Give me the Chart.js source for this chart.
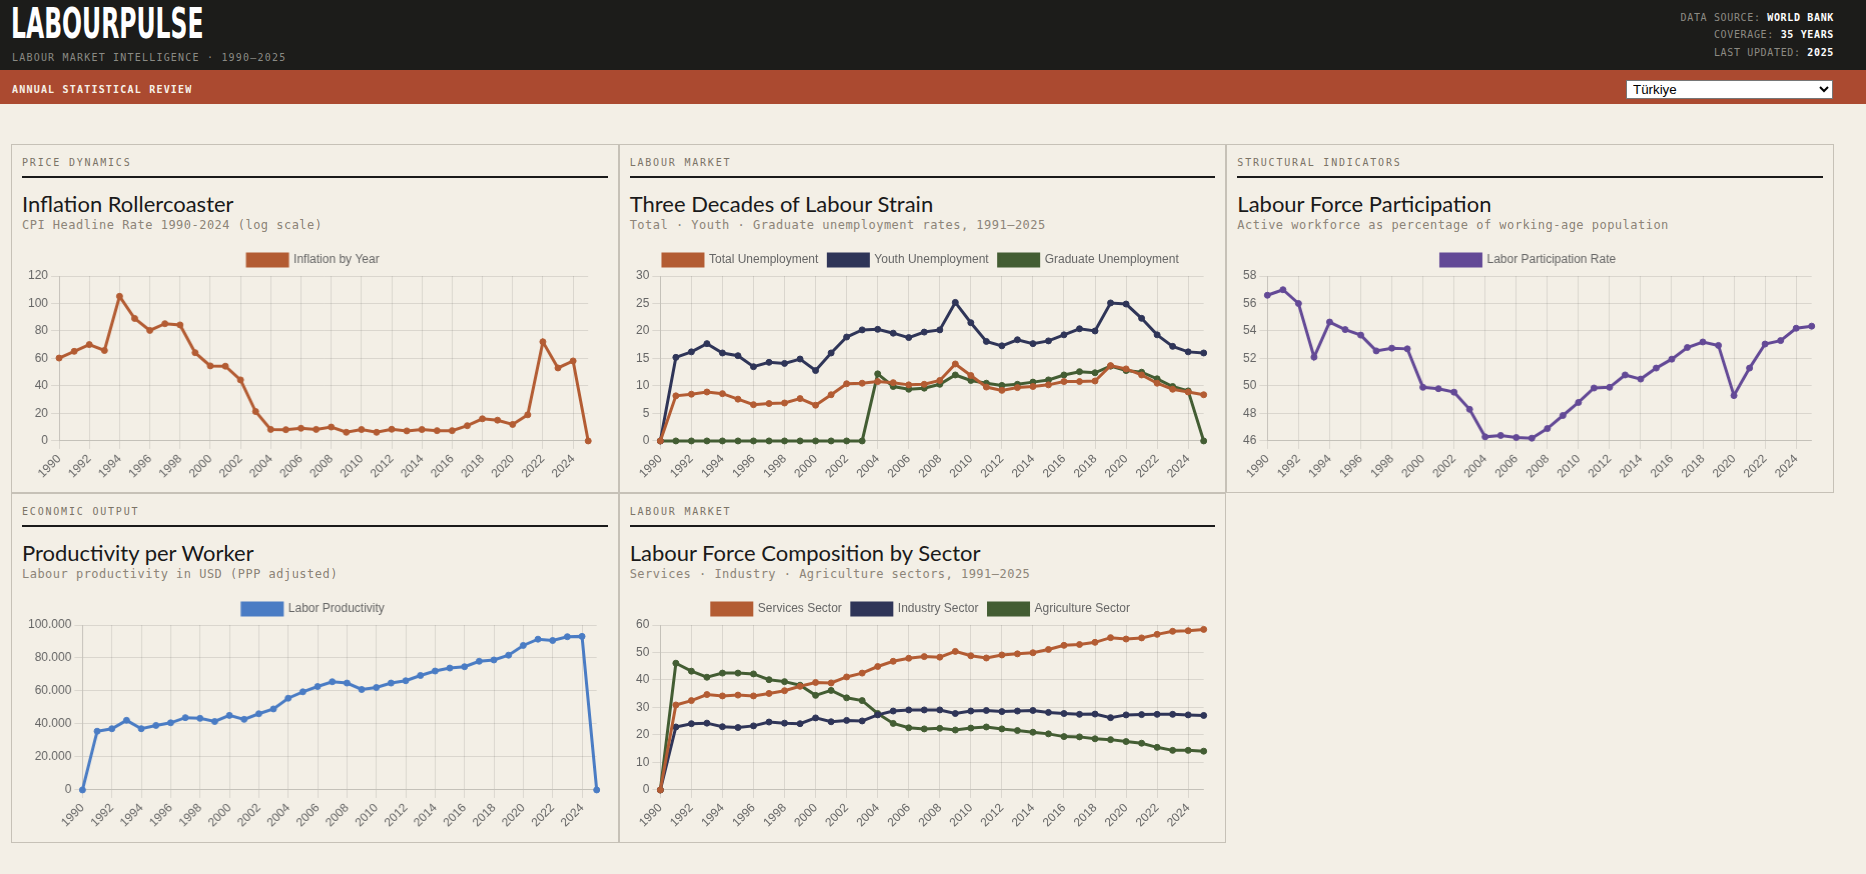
<!DOCTYPE html>
<html><head><meta charset="utf-8">
<script src="https://cdn.jsdelivr.net/npm/chart.js@4.4.1/dist/chart.umd.min.js"></script>
<style>
html,body{margin:0;padding:0;background:#f3efe6;}
body{width:1866px;height:874px;overflow:hidden;position:relative;font-family:'DejaVu Sans Mono',monospace;}
.hdr{position:absolute;left:0;top:0;width:1866px;height:70px;background:#1c1c1a;}
.brand{position:absolute;left:11px;top:-0.7px;font-family:'DejaVu Sans Condensed','DejaVu Sans';font-weight:bold;font-size:42.5px;line-height:50px;color:#fff;transform:scaleX(.615);transform-origin:0 0;white-space:nowrap;}
.tag{position:absolute;left:12px;top:51.8px;font-size:10px;line-height:12px;letter-spacing:1.2px;color:#8a8a84;white-space:nowrap;}
.meta{position:absolute;right:32px;top:8.5px;text-align:right;font-size:10px;line-height:17.5px;letter-spacing:0.65px;color:#8d8b84;white-space:nowrap;}
.meta b{color:#fff;}
.bar{position:absolute;left:0;top:70px;width:1866px;height:34px;background:#ab4a30;}
.bar .t{position:absolute;left:12px;top:13.5px;font-size:10px;line-height:12px;letter-spacing:1.2px;color:#f6f1e8;font-weight:bold;white-space:nowrap;}
.bar select{position:absolute;left:1626px;top:10px;width:207px;height:19px;font-family:'Liberation Sans',Arial,sans-serif;font-size:13.33px;background:#fff;border:1px solid #767676;padding:0 0 0 2px;color:#000;}
.grid{position:absolute;left:11px;top:144px;width:1823px;display:grid;grid-template-columns:repeat(3,1fr);grid-template-rows:349px 350px;}
.card{position:relative;border:1px solid #c6c1b7;box-sizing:border-box;}
.card.empty{border:none;}
.lbl{position:absolute;left:10px;top:12px;font-size:10px;line-height:12px;letter-spacing:1.8px;color:#7b7366;white-space:nowrap;}
.rule{position:absolute;left:10px;right:10px;top:31px;height:2px;background:#1a1a1a;}
.ttl{position:absolute;left:10px;top:44.5px;font-family:Lato,sans-serif;font-size:22px;line-height:28px;color:#1a1a1a;white-space:nowrap;}
.sub{position:absolute;left:10px;top:73px;font-size:12px;line-height:14px;letter-spacing:0.48px;color:#8c8478;white-space:nowrap;}
.cw{position:absolute;left:13px;right:17px;top:99px;height:240px;}
</style></head>
<body>
<div class="hdr">
  <div class="brand">LABOURPULSE</div>
  <div class="tag">LABOUR MARKET INTELLIGENCE · 1990–2025</div>
  <div class="meta">DATA SOURCE: <b>WORLD BANK</b><br>COVERAGE: <b>35 YEARS</b><br>LAST UPDATED: <b>2025</b></div>
</div>
<div class="bar"><div class="t">ANNUAL STATISTICAL REVIEW</div>
<select><option>Türkiye</option></select></div>

<div class="grid">
  <div class="card"><div class="lbl">PRICE DYNAMICS</div><div class="rule"></div><div class="ttl">Inflation Rollercoaster</div><div class="sub">CPI Headline Rate 1990-2024 (log scale)</div><div class="cw"><canvas id="c1"></canvas></div></div>
  <div class="card"><div class="lbl">LABOUR MARKET</div><div class="rule"></div><div class="ttl">Three Decades of Labour Strain</div><div class="sub">Total · Youth · Graduate unemployment rates, 1991–2025</div><div class="cw"><canvas id="c2"></canvas></div></div>
  <div class="card"><div class="lbl">STRUCTURAL INDICATORS</div><div class="rule"></div><div class="ttl">Labour Force Participation</div><div class="sub">Active workforce as percentage of working-age population</div><div class="cw"><canvas id="c3"></canvas></div></div>
  <div class="card"><div class="lbl">ECONOMIC OUTPUT</div><div class="rule"></div><div class="ttl">Productivity per Worker</div><div class="sub">Labour productivity in USD (PPP adjusted)</div><div class="cw"><canvas id="c4"></canvas></div></div>
  <div class="card"><div class="lbl">LABOUR MARKET</div><div class="rule"></div><div class="ttl">Labour Force Composition by Sector</div><div class="sub">Services · Industry · Agriculture sectors, 1991–2025</div><div class="cw"><canvas id="c5"></canvas></div></div>
  <div class="card empty"></div>
</div>

<script>
const years = ['1990','1991','1992','1993','1994','1995','1996','1997','1998','1999','2000','2001','2002','2003','2004','2005','2006','2007','2008','2009','2010','2011','2012','2013','2014','2015','2016','2017','2018','2019','2020','2021','2022','2023','2024','2025'];

const inflation = [60.3, 65.2, 70.1, 65.8, 105.2, 89.1, 80.4, 85.3, 84.4, 64.2, 54.6, 54.4, 44.4, 21.4, 8.4, 8.2, 9.2, 8.4, 10.1, 6.3, 8.3, 6.3, 8.5, 7.3, 8.3, 7.5, 7.5, 11.1, 16.1, 15.1, 12.0, 19.0, 72.1, 53.1, 58.2, 0];

const unempTotal = [0, 8.2, 8.5, 8.9, 8.6, 7.6, 6.6, 6.8, 6.9, 7.7, 6.5, 8.4, 10.4, 10.5, 10.8, 10.6, 10.2, 10.3, 11.0, 14.0, 11.9, 9.8, 9.2, 9.7, 9.9, 10.2, 10.8, 10.8, 10.9, 13.7, 13.1, 12.0, 10.5, 9.4, 8.9, 8.4];
const unempYouth = [0, 15.2, 16.2, 17.7, 16.0, 15.5, 13.5, 14.3, 14.1, 14.9, 12.8, 16.0, 18.9, 20.2, 20.3, 19.6, 18.8, 19.8, 20.2, 25.2, 21.5, 18.1, 17.3, 18.4, 17.7, 18.2, 19.3, 20.4, 20.0, 25.1, 24.9, 22.3, 19.3, 17.2, 16.2, 16.0];
const unempGraduate = [0, 0, 0, 0, 0, 0, 0, 0, 0, 0, 0, 0, 0, 0, 12.2, 9.9, 9.4, 9.6, 10.3, 12.0, 11.0, 10.5, 10.1, 10.3, 10.7, 11.1, 12.0, 12.6, 12.4, 13.6, 12.8, 12.5, 11.3, 9.9, 9.1, 0];

const participation = [56.6, 57.0, 56.0, 52.1, 54.65, 54.1, 53.7, 52.55, 52.75, 52.7, 49.9, 49.8, 49.55, 48.3, 46.3, 46.4, 46.25, 46.2, 46.9, 47.85, 48.8, 49.85, 49.9, 50.8, 50.5, 51.3, 51.95, 52.8, 53.2, 52.95, 49.3, 51.3, 53.05, 53.3, 54.2, 54.35];

const productivity = [0, 35600, 37100, 42200, 37100, 39100, 40700, 43800, 43400, 41500, 45200, 42800, 46200, 49100, 55600, 59500, 62700, 65600, 64800, 60900, 62100, 64800, 66200, 69400, 72100, 73900, 74700, 78000, 78800, 81700, 87600, 91400, 90600, 92900, 93100, 0];

const sectorServices = [0, 30.9, 32.5, 34.7, 34.2, 34.5, 34.2, 35.1, 36.1, 37.7, 39.1, 38.9, 41.1, 42.5, 44.9, 46.8, 47.9, 48.5, 48.3, 50.4, 48.8, 48.0, 49.1, 49.5, 49.9, 51.1, 52.6, 52.9, 53.7, 55.4, 54.9, 55.3, 56.6, 57.7, 57.9, 58.4];
const sectorIndustry = [0, 22.9, 24.1, 24.3, 23.0, 22.7, 23.3, 24.7, 24.3, 24.1, 26.2, 24.8, 25.3, 25.1, 27.3, 28.7, 29.1, 29.1, 29.1, 27.8, 28.7, 28.9, 28.5, 28.7, 28.9, 28.2, 27.8, 27.5, 27.6, 26.3, 27.3, 27.4, 27.5, 27.5, 27.3, 27.1];
const sectorAgriculture = [0, 46.1, 43.2, 41.0, 42.5, 42.5, 42.2, 40.1, 39.4, 38.1, 34.4, 36.2, 33.5, 32.5, 27.8, 24.2, 22.6, 22.2, 22.4, 21.8, 22.5, 22.9, 22.2, 21.6, 21.0, 20.4, 19.4, 19.3, 18.6, 18.3, 17.6, 17.0, 15.5, 14.4, 14.4, 14.1];

const C_ORANGE = '#b35c33', C_NAVY = '#2f3558', C_GREEN = '#435d33', C_PURPLE = '#634996', C_BLUE = '#4a7cc4';

function ds(label, data, color) {
  return { label, data, borderColor: color, backgroundColor: color, borderWidth: 3,
    pointRadius: 3, pointBorderWidth: 1, pointBackgroundColor: color, pointBorderColor: color,
    tension: 0, fill: false };
}
function opts(extraY, extraScales) {
  const o = {
    responsive: true, maintainAspectRatio: false, animation: false,
    plugins: { legend: { display: true, position: 'top', labels: { color: '#666', boxWidth: 40, font: { size: 12 } } },
               tooltip: { enabled: false } },
    scales: {
      x: { grid: { color: 'rgba(0,0,0,0.1)' }, ticks: { color: '#666', maxRotation: 45, minRotation: 45, font: { size: 12 } } },
      y: Object.assign({ grid: { color: 'rgba(0,0,0,0.1)' }, ticks: { color: '#666', font: { size: 12 } } }, extraY || {})
    }
  };
  Object.assign(o.scales, extraScales || {});
  return o;
}
function mk(id, datasets, o) {
  new Chart(document.getElementById(id), { type: 'line', data: { labels: years, datasets }, options: o });
}
// chart 1 carries an empty right-hand axis (reserved gutter, nothing drawn)
mk('c1', [ds('Inflation by Year', inflation, C_ORANGE)], opts(null, {
  y1: { position: 'right', display: true, grid: { display: false, drawTicks: false }, border: { display: false },
        ticks: { display: false }, afterFit: s => { s.width = 13.5; } }
}));
mk('c2', [ds('Total Unemployment', unempTotal, C_ORANGE), ds('Youth Unemployment', unempYouth, C_NAVY), ds('Graduate Unemployment', unempGraduate, C_GREEN)], opts());
mk('c3', [ds('Labor Participation Rate', participation, C_PURPLE)], opts());
mk('c4', [ds('Labor Productivity', productivity, C_BLUE)], opts({ ticks: { color: '#666', font: { size: 12 }, maxTicksLimit: 6,
  callback: v => String(v).replace(/\B(?=(\d{3})+(?!\d))/g, '.') } }));
mk('c5', [ds('Services Sector', sectorServices, C_ORANGE), ds('Industry Sector', sectorIndustry, C_NAVY), ds('Agriculture Sector', sectorAgriculture, C_GREEN)], opts());
</script>
</body></html>
